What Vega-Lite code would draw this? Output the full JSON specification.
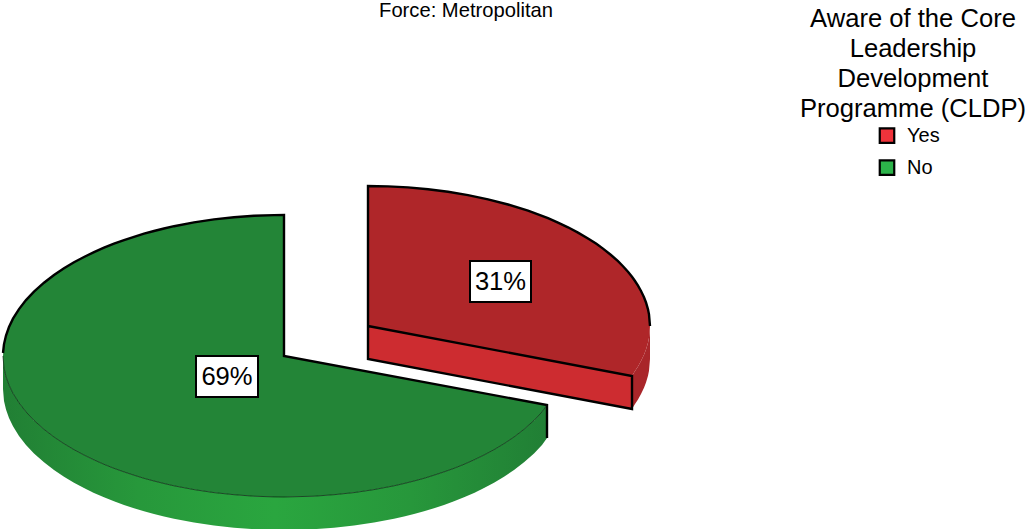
{
"$schema":"https://vega.github.io/schema/vega-lite/v6.json",
"width":1026,"height":529,
"autosize":{"type":"none"},
"padding":0,
"background":"white",
"view":{"stroke":null},
"config":{"font":"Liberation Sans"},
"datasets":{
"shares":[
{"slice":"Yes","share":0.31,"lx":500.5,"ly":282,"x0":470,"x1":531,"y0":261,"y1":302},
{"slice":"No","share":0.69,"lx":227,"ly":377,"x0":196,"x1":258,"y0":356,"y1":397}],
"heading":[{"text":"Force: Metropolitan","x":466,"y":17}],
"noWall":[
{"x":3,"y":356,"y2":389},{"x":4,"y":367.9,"y2":400.9},{"x":6,"y":376.5,"y2":409.5},{"x":9,"y":385,"y2":418},{"x":13,"y":393.3,"y2":426.3},{"x":19,"y":402.9,"y2":435.9},{"x":26,"y":411.9,"y2":444.9},{"x":34,"y":420.4,"y2":453.4},{"x":44,"y":429.3,"y2":462.3},{"x":54,"y":437,"y2":470},{"x":64,"y":443.7,"y2":476.7},{"x":74,"y":449.7,"y2":482.7},{"x":84,"y":455,"y2":488},{"x":94,"y":459.9,"y2":492.9},{"x":104,"y":464.3,"y2":497.3},{"x":114,"y":468.3,"y2":501.3},{"x":124,"y":471.9,"y2":504.9},{"x":134,"y":475.2,"y2":508.2},{"x":144,"y":478.3,"y2":511.3},{"x":154,"y":481,"y2":514},{"x":164,"y":483.5,"y2":516.5},{"x":174,"y":485.8,"y2":518.8},{"x":194,"y":489.6,"y2":522.6},{"x":214,"y":492.6,"y2":525.6},{"x":234,"y":494.7,"y2":527.7},{"x":254,"y":496.2,"y2":529.2},{"x":274,"y":496.9,"y2":529.9},{"x":284,"y":497,"y2":530},{"x":314,"y":496.2,"y2":529.2},{"x":334,"y":494.7,"y2":527.7},{"x":354,"y":492.6,"y2":525.6},{"x":374,"y":489.6,"y2":522.6},{"x":394,"y":485.8,"y2":518.8},{"x":404,"y":483.5,"y2":516.5},{"x":414,"y":481,"y2":514},{"x":424,"y":478.3,"y2":511.3},{"x":434,"y":475.2,"y2":508.2},{"x":444,"y":471.9,"y2":504.9},{"x":454,"y":468.3,"y2":501.3},{"x":464,"y":464.3,"y2":497.3},{"x":474,"y":459.9,"y2":492.9},{"x":484,"y":455,"y2":488},{"x":494,"y":449.7,"y2":482.7},{"x":504,"y":443.7,"y2":476.7},{"x":514,"y":437,"y2":470},{"x":524,"y":429.3,"y2":462.3},{"x":534,"y":420.4,"y2":453.4},{"x":542,"y":411.9,"y2":444.9},{"x":547,"y":405,"y2":438}],
"noTop":[
{"x":3,"y":356,"y2":356},{"x":4,"y":344.1,"y2":367.9},{"x":6,"y":335.5,"y2":376.5},{"x":9,"y":327,"y2":385},{"x":13,"y":318.7,"y2":393.3},{"x":19,"y":309.1,"y2":402.9},{"x":26,"y":300.1,"y2":411.9},{"x":34,"y":291.6,"y2":420.4},{"x":44,"y":282.7,"y2":429.3},{"x":54,"y":275,"y2":437},{"x":64,"y":268.3,"y2":443.7},{"x":74,"y":262.3,"y2":449.7},{"x":84,"y":257,"y2":455},{"x":94,"y":252.1,"y2":459.9},{"x":104,"y":247.7,"y2":464.3},{"x":114,"y":243.7,"y2":468.3},{"x":124,"y":240.1,"y2":471.9},{"x":134,"y":236.8,"y2":475.2},{"x":144,"y":233.7,"y2":478.3},{"x":154,"y":231,"y2":481},{"x":164,"y":228.5,"y2":483.5},{"x":174,"y":226.2,"y2":485.8},{"x":194,"y":222.4,"y2":489.6},{"x":214,"y":219.4,"y2":492.6},{"x":234,"y":217.3,"y2":494.7},{"x":254,"y":215.8,"y2":496.2},{"x":274,"y":215.1,"y2":496.9},{"x":284,"y":215,"y2":497},{"x":284.01,"y":356,"y2":497},{"x":314,"y":361.6,"y2":496.2},{"x":334,"y":365.3,"y2":494.7},{"x":354,"y":369,"y2":492.6},{"x":374,"y":372.8,"y2":489.6},{"x":394,"y":376.5,"y2":485.8},{"x":404,"y":378.4,"y2":483.5},{"x":414,"y":380.2,"y2":481},{"x":424,"y":382.1,"y2":478.3},{"x":434,"y":383.9,"y2":475.2},{"x":444,"y":385.8,"y2":471.9},{"x":454,"y":387.7,"y2":468.3},{"x":464,"y":389.5,"y2":464.3},{"x":474,"y":391.4,"y2":459.9},{"x":484,"y":393.3,"y2":455},{"x":494,"y":395.1,"y2":449.7},{"x":504,"y":397,"y2":443.7},{"x":514,"y":398.8,"y2":437},{"x":524,"y":400.7,"y2":429.3},{"x":534,"y":402.6,"y2":420.4},{"x":542,"y":404.1,"y2":411.9},{"x":547,"y":405,"y2":405}],
"yesWall":[
{"x":632,"y":376,"y2":409},{"x":635,"y":371,"y2":404},{"x":638,"y":366.4,"y2":399.4},{"x":641,"y":361,"y2":394},{"x":644,"y":354.7,"y2":387.7},{"x":646,"y":349.5,"y2":382.5},{"x":648,"y":342.7,"y2":375.7},{"x":649,"y":337.7,"y2":370.7},{"x":650,"y":326,"y2":359}],
"yesFront":[
{"x":368,"y":326,"y2":359},{"x":632,"y":376,"y2":409}],
"yesTop":[
{"x":368,"y":186,"y2":326},{"x":388,"y":186.4,"y2":329.8},{"x":408,"y":187.4,"y2":333.6},{"x":428,"y":189.2,"y2":337.4},{"x":448,"y":191.8,"y2":341.2},{"x":468,"y":195.1,"y2":344.9},{"x":488,"y":199.3,"y2":348.7},{"x":508,"y":204.5,"y2":352.5},{"x":528,"y":210.7,"y2":356.3},{"x":548,"y":218.2,"y2":360.1},{"x":558,"y":222.6,"y2":362},{"x":568,"y":227.3,"y2":363.9},{"x":578,"y":232.6,"y2":365.8},{"x":588,"y":238.4,"y2":367.7},{"x":596,"y":243.6,"y2":369.2},{"x":603,"y":248.6,"y2":370.5},{"x":611,"y":255,"y2":372},{"x":618,"y":261.2,"y2":373.4},{"x":623,"y":266.2,"y2":374.3},{"x":628,"y":271.8,"y2":375.2},{"x":632,"y":276.8,"y2":376},{"x":635,"y":281,"y2":371},{"x":638,"y":285.6,"y2":366.4},{"x":641,"y":291,"y2":361},{"x":644,"y":297.3,"y2":354.7},{"x":646,"y":302.5,"y2":349.5},{"x":648,"y":309.3,"y2":342.7},{"x":649,"y":314.3,"y2":337.7},{"x":650,"y":326,"y2":326}],
"noEdge":[
{"seq":1,"x":3,"y":353},{"seq":2,"x":4,"y":344.1},{"seq":3,"x":6,"y":335.5},{"seq":4,"x":9,"y":327},{"seq":5,"x":13,"y":318.7},{"seq":6,"x":19,"y":309.1},{"seq":7,"x":26,"y":300.1},{"seq":8,"x":34,"y":291.6},{"seq":9,"x":44,"y":282.7},{"seq":10,"x":54,"y":275},{"seq":11,"x":64,"y":268.3},{"seq":12,"x":74,"y":262.3},{"seq":13,"x":84,"y":257},{"seq":14,"x":94,"y":252.1},{"seq":15,"x":104,"y":247.7},{"seq":16,"x":114,"y":243.7},{"seq":17,"x":124,"y":240.1},{"seq":18,"x":134,"y":236.8},{"seq":19,"x":144,"y":233.7},{"seq":20,"x":154,"y":231},{"seq":21,"x":164,"y":228.5},{"seq":22,"x":174,"y":226.2},{"seq":23,"x":194,"y":222.4},{"seq":24,"x":214,"y":219.4},{"seq":25,"x":234,"y":217.3},{"seq":26,"x":254,"y":215.8},{"seq":27,"x":274,"y":215.1},{"seq":28,"x":284,"y":215},{"seq":29,"x":284,"y":356},{"seq":30,"x":547,"y":405},{"seq":31,"x":547,"y":438}],
"yesEdge":[
{"seq":1,"x":650,"y":326},{"seq":2,"x":649,"y":314.3},{"seq":3,"x":648,"y":309.3},{"seq":4,"x":646,"y":302.5},{"seq":5,"x":644,"y":297.3},{"seq":6,"x":641,"y":291},{"seq":7,"x":638,"y":285.6},{"seq":8,"x":635,"y":281},{"seq":9,"x":632,"y":276.8},{"seq":10,"x":628,"y":271.8},{"seq":11,"x":623,"y":266.2},{"seq":12,"x":618,"y":261.2},{"seq":13,"x":611,"y":255},{"seq":14,"x":603,"y":248.6},{"seq":15,"x":596,"y":243.6},{"seq":16,"x":588,"y":238.4},{"seq":17,"x":578,"y":232.6},{"seq":18,"x":568,"y":227.3},{"seq":19,"x":558,"y":222.6},{"seq":20,"x":548,"y":218.2},{"seq":21,"x":528,"y":210.7},{"seq":22,"x":508,"y":204.5},{"seq":23,"x":488,"y":199.3},{"seq":24,"x":468,"y":195.1},{"seq":25,"x":448,"y":191.8},{"seq":26,"x":428,"y":189.2},{"seq":27,"x":408,"y":187.4},{"seq":28,"x":388,"y":186.4},{"seq":29,"x":368,"y":186},{"seq":30,"x":368,"y":359},{"seq":31,"x":632,"y":409},{"seq":32,"x":632,"y":376},{"seq":33,"x":368,"y":326}]
},
"layer":[
{"data":{"name":"noWall"},
 "mark":{"type":"area","clip":true,"fill":{"gradient":"linear","x1":0,"x2":1,"y1":0,"y2":0,"stops":[{"offset":0,"color":"#217f34"},{"offset":0.25,"color":"#27983b"},{"offset":0.5,"color":"#2aa63f"},{"offset":0.75,"color":"#27973b"},{"offset":1,"color":"#217f35"}]}},
 "encoding":{"x":{"field":"x","type":"quantitative","scale":{"domain":[0,1026],"nice":false,"zero":false},"axis":null},"y":{"field":"y","type":"quantitative","scale":{"domain":[529,0],"nice":false,"zero":false},"axis":null},"y2":{"field":"y2"}}},
{"data":{"name":"noTop"},
 "mark":{"type":"area","fill":"#238537"},
 "encoding":{"x":{"field":"x","type":"quantitative"},"y":{"field":"y","type":"quantitative"},"y2":{"field":"y2"}}},
{"data":{"name":"noTop"},
 "mark":{"type":"line","stroke":"#0b3014","strokeWidth":0.8},
 "encoding":{"x":{"field":"x","type":"quantitative"},"y":{"field":"y2","type":"quantitative"}}},
{"data":{"name":"noEdge"},
 "mark":{"type":"line","stroke":"black","strokeWidth":2.4,"strokeJoin":"miter"},
 "encoding":{"x":{"field":"x","type":"quantitative"},"y":{"field":"y","type":"quantitative"},"order":{"field":"seq"}}},
{"data":{"name":"yesWall"},
 "mark":{"type":"area","fill":"#a9262a"},
 "encoding":{"x":{"field":"x","type":"quantitative"},"y":{"field":"y","type":"quantitative"},"y2":{"field":"y2"}}},
{"data":{"name":"yesFront"},
 "mark":{"type":"area","fill":"#cd2c30"},
 "encoding":{"x":{"field":"x","type":"quantitative"},"y":{"field":"y","type":"quantitative"},"y2":{"field":"y2"}}},
{"data":{"name":"yesTop"},
 "mark":{"type":"area","fill":"#af2629"},
 "encoding":{"x":{"field":"x","type":"quantitative"},"y":{"field":"y","type":"quantitative"},"y2":{"field":"y2"}}},
{"data":{"name":"yesEdge"},
 "mark":{"type":"line","stroke":"black","strokeWidth":2.4,"strokeJoin":"miter"},
 "encoding":{"x":{"field":"x","type":"quantitative"},"y":{"field":"y","type":"quantitative"},"order":{"field":"seq"}}},
{"data":{"name":"shares"},
 "mark":{"type":"rect","fill":"white","stroke":"black","strokeWidth":2},
 "encoding":{"x":{"field":"x0","type":"quantitative"},"x2":{"field":"x1"},"y":{"field":"y0","type":"quantitative"},"y2":{"field":"y1"}}},
{"data":{"name":"shares"},
 "mark":{"type":"text","font":"Liberation Sans","fontSize":25.6,"align":"center","baseline":"middle","color":"black"},
 "encoding":{"x":{"field":"lx","type":"quantitative"},"y":{"field":"ly","type":"quantitative"},"text":{"field":"share","type":"quantitative","format":".0%"}}},
{"data":{"name":"heading"},
 "mark":{"type":"text","font":"Liberation Sans","fontSize":20.2,"align":"center","baseline":"alphabetic","color":"black"},
 "encoding":{"x":{"field":"x","type":"quantitative"},"y":{"field":"y","type":"quantitative"},"text":{"field":"text"}}},
{"data":{"name":"shares"},
 "mark":{"type":"point","filled":true,"size":0,"opacity":0},
 "encoding":{
  "x":{"field":"lx","type":"quantitative"},"y":{"field":"ly","type":"quantitative"},
  "fill":{"field":"slice","type":"nominal","sort":["Yes","No"],
   "scale":{"domain":["Yes","No"],"range":["#f0333b","#2cb34a"]},
   "legend":{"orient":"none","legendX":800,"legendY":7,"padding":0,
    "title":["Aware of the Core","Leadership","Development","Programme (CLDP)"],
    "titleFont":"Liberation Sans","titleFontSize":25.6,"titleFontWeight":"normal","titleColor":"black","titleLineHeight":30,"titleAnchor":"middle","titleAlign":"center","titlePadding":3,"titleLimit":400,
    "symbolType":"square","symbolSize":210,"symbolStrokeColor":"black","symbolStrokeWidth":2.2,"symbolOpacity":1,"symbolOffset":-9,
    "labelFont":"Liberation Sans","labelFontSize":20,"labelColor":"black","labelOffset":10,
    "rowPadding":8}}}}
]
}
